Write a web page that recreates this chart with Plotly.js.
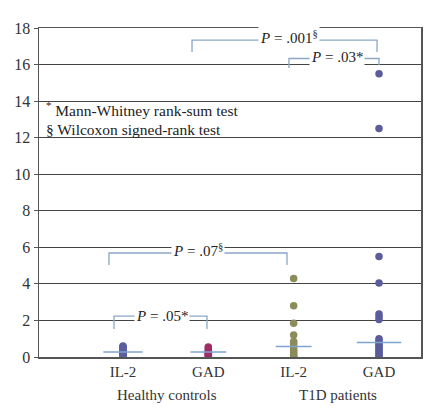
<!DOCTYPE html>
<html><head><meta charset="utf-8">
<script src="https://cdn.plot.ly/plotly-3.0.1.min.js"></script>
<style>body{margin:0;background:#fff}#chart{width:442px;height:408px}</style>
</head><body><div id="chart"></div>
<script>
// Categories (x positions 0..3)
const categories = ["IL-2", "GAD", "IL-2", "GAD"];
const groupLabels = ["Healthy controls", "T1D patients"];
// Values
const healthyIL2 = [0.6, 0.55, 0.5, 0.45, 0.4, 0.35, 0.3, 0.25, 0.2, 0.15, 0.1, 0.05];
const healthyGAD = [0.55, 0.5, 0.4, 0.3, 0.25, 0.2, 0.15, 0.1, 0.05];
const t1dIL2 = [4.3, 2.8, 1.85, 1.2, 0.85, 0.75, 0.6, 0.45, 0.35, 0.25, 0.15, 0.05, 0];
const t1dGAD = [15.5, 12.5, 5.5, 4.05, 2.35, 2.2, 2.05, 1.0, 0.9, 0.8, 0.7, 0.6, 0.5, 0.4, 0.3, 0.2, 0.1, 0];
const medians = [0.27, 0.27, 0.58, 0.8];
const yTicks = [0, 2, 4, 6, 8, 10, 12, 14, 16, 18];
// Comparisons: [from category, to category, p-label]
const comparisons = [
  {from: 0, to: 1, label: "<i>P</i> = .05*"},
  {from: 0, to: 2, label: "<i>P</i> = .07<sup>§</sup>"},
  {from: 2, to: 3, label: "<i>P</i> = .03*"},
  {from: 1, to: 3, label: "<i>P</i> = .001<sup>§</sup>"}
];
const notes = ["<sup>*</sup> Mann-Whitney rank-sum test", "§ Wilcoxon signed-rank test"];

const series = [healthyIL2, healthyGAD, t1dIL2, t1dGAD];
const colors = ["#5b5f9f", "#9e2f66", "#8b8b5c", "#5a5c9b"];
const font = "Liberation Serif, Times New Roman, serif";

const traces = series.map((vals, i) => ({
  type: "scatter", mode: "markers",
  x: vals.map(() => i), y: vals,
  marker: {color: colors[i], size: 7.5},
  hoverinfo: "y", showlegend: false
}));
medians.forEach((m, i) => {
  const hw = (i === 3) ? 0.26 : (i === 0 ? 0.23 : 0.21);
  traces.push({type: "scatter", mode: "lines", x: [i - hw, i + hw], y: [m, m],
    line: {color: "#7fa3cf", width: 1.5}, showlegend: false, hoverinfo: "skip"});
});

// bracket geometry (style/position only)
const brGeom = [
  {y: 2.24, yl: 1.53, yr: 1.53, xl: -0.105, xr: 0.984, tx: 0.457, ty: 2.27},
  {y: 5.69, yl: 5.03, yr: 5.03, xl: -0.164, xr: 1.922, tx: 0.879, ty: 5.86},
  {y: 16.33, yl: 15.81, yr: 15.97, xl: 1.945, xr: 3.0, tx: 2.508, ty: 16.40},
  {y: 17.34, yl: 16.69, yr: 16.69, xl: 0.809, xr: 2.977, tx: 1.945, ty: 17.52}
];
const shapes = [];
const annotations = [];
const brColor = "#8aa7c7";
comparisons.forEach((c, k) => {
  const g = brGeom[k];
  shapes.push({type: "path", xref: "x", yref: "y",
    path: `M ${g.xl} ${g.yl} L ${g.xl} ${g.y} L ${g.xr} ${g.y} L ${g.xr} ${g.yr}`,
    line: {color: brColor, width: 1.3}, layer: "above"});
  annotations.push({x: g.tx, y: g.ty, xref: "x", yref: "y", text: c.label, showarrow: false,
    font: {family: font, size: 15, color: "#222"}, bgcolor: "#fff", borderpad: 1});
});
notes.forEach((t, i) => {
  annotations.push({x: -0.92, y: 13.55 - i * 1.1, xref: "x", yref: "y", xanchor: "left",
    text: t, showarrow: false, font: {family: font, size: 15.5, color: "#222"}});
});
groupLabels.forEach((t, i) => {
  annotations.push({x: 0.516 + i * 2.0, y: 0, xref: "x", yref: "paper", yanchor: "top", yshift: -28,
    text: t, showarrow: false, font: {family: font, size: 15, color: "#333"}});
});

const layout = {
  width: 442, height: 408,
  margin: {l: 39, r: 21, t: 28, b: 51},
  paper_bgcolor: "#fff", plot_bgcolor: "#fff",
  font: {family: font, size: 15, color: "#333"},
  xaxis: {range: [-0.984, 3.492], tickvals: [0, 1, 2, 3], ticktext: categories,
    showgrid: false, zeroline: false, showline: true, mirror: true, linecolor: "#555", linewidth: 1.5,
    ticks: "", tickfont: {family: font, size: 15, color: "#333"}},
  yaxis: {range: [0, 18], tickvals: yTicks, showgrid: true, gridcolor: "#444", gridwidth: 1,
    zeroline: false, showline: true, mirror: true, linecolor: "#555", linewidth: 1.5,
    ticks: "outside", ticklen: 4, tickcolor: "#555",
    tickfont: {family: font, size: 16, color: "#333"}},
  shapes: shapes, annotations: annotations
};
Plotly.newPlot("chart", traces, layout, {displayModeBar: false, staticPlot: true});
</script></body></html>
